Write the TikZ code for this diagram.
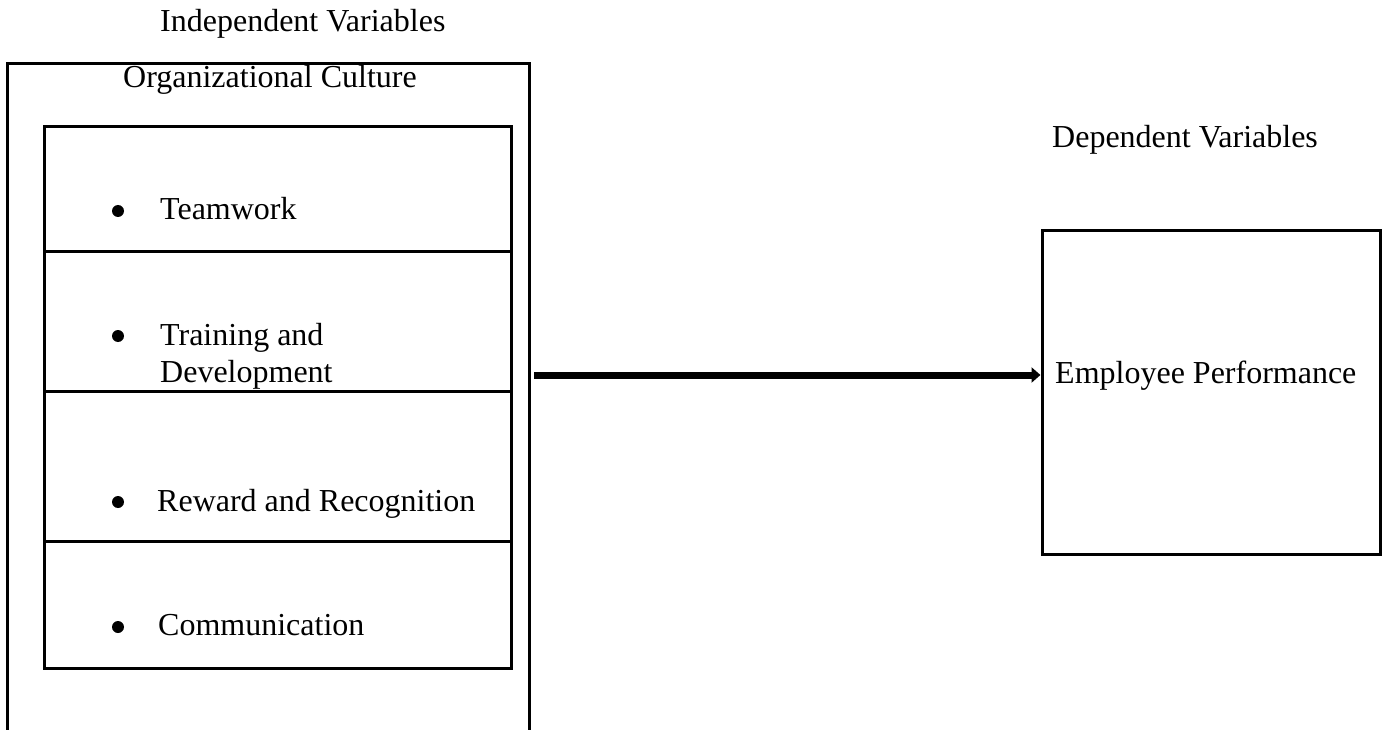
\documentclass[tikz,border=0pt]{standalone}
\usepackage{fontspec}
\setmainfont{Liberation Serif}
\usetikzlibrary{arrows.meta}
\begin{document}
\begin{tikzpicture}[x=1pt,y=-1pt,
  frame/.style={line width=3pt,line join=miter},
  lbl/.style={anchor=base west,inner sep=0pt,font=\fontsize{32}{37}\selectfont},
  bul/.style={circle,fill=black,inner sep=0pt,minimum size=12pt},
  conn/.style={line width=7pt,-{Triangle[length=9pt,width=15pt]}}]
\useasboundingbox (0,0) rectangle (1382,730);
% outer open box
\draw[frame] (7,731) -- (7,64) -- (529,64) -- (529,731);
% inner cells
\draw[frame] (44,127) rectangle (511,668);
\draw[frame] (44,252) -- (511,252);
\draw[frame] (44,391) -- (511,391);
\draw[frame] (44,541) -- (511,541);
% titles
\node[lbl] (indep) at (160,32) {Independent Variables};
\node[lbl] (orgc) at (123,88) {Organizational Culture};
\node[lbl] (dep) at (1052,148) {Dependent Variables};
% items
\node[bul] (b1) at (118,211) {};
\node[lbl] (t1) at (160,220) {Teamwork};
\node[bul] (b2) at (118,336) {};
\node[lbl] (t2a) at (160,345) {Training and};
\node[lbl] (t2b) at (160,382) {Development};
\node[bul] (b3) at (118,502) {};
\node[lbl] (t3) at (157,511) {Reward and Recognition};
\node[bul] (b4) at (118,627) {};
\node[lbl] (t4) at (158,635) {Communication};
% dependent box
\node[draw,line width=3pt,minimum width=338pt,minimum height=323pt,inner sep=0pt] (perf) at (1211,392.5) {};
\node[lbl] (perft) at (1055,383) {Employee Performance};
% arrow
\coordinate (astart) at (534,375);
\draw[conn] (astart) -- (perf.west |- astart);
\end{tikzpicture}
\end{document}
